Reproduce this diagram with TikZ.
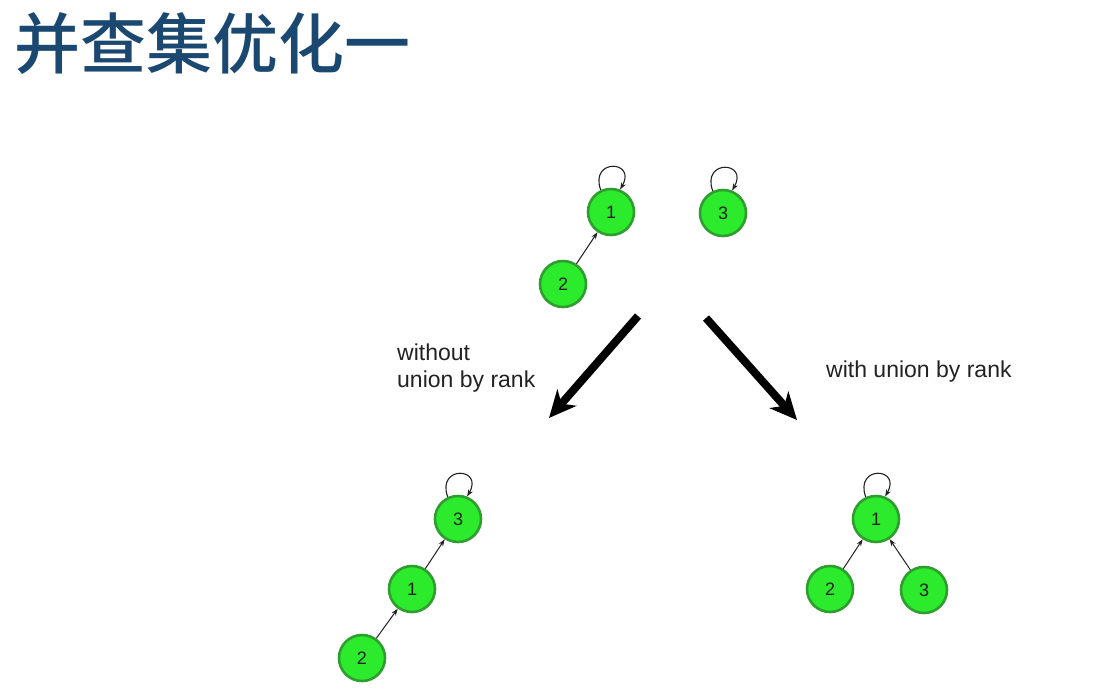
\documentclass[tikz,border=0pt]{standalone}
\usepackage{fontspec}
\setmainfont{Liberation Sans}
\newfontfamily\cjk{Noto Sans CJK SC Medium}
\usetikzlibrary{arrows.meta}
\definecolor{titleblue}{HTML}{1B4870}
\definecolor{nodefill}{HTML}{2CEA2C}
\definecolor{nodeline}{HTML}{2E9E2E}
\definecolor{ink}{HTML}{222222}
\tikzset{
  vert/.style={circle, draw=nodeline, line width=2.6pt, fill=nodefill,
    minimum size=46pt, inner sep=0pt, font=\fontsize{18}{18}\selectfont, text=ink},
  link/.style={-{Stealth[length=7pt,width=5pt]}, line width=1pt, draw=ink},
  selfloop/.style={-{Stealth[length=7pt,width=5pt]}, line width=1.1pt, draw=ink},
  bigarrow/.style={-{Stealth[length=27pt,width=25pt,inset=8pt]}, line width=8pt, draw=black},
  caption/.style={font=\fontsize{23}{27}\selectfont, text=ink, anchor=base west, align=left, inner sep=0pt}
}
\begin{document}
\begin{tikzpicture}[x=1pt, y=-1pt]
\useasboundingbox (0,0) rectangle (1097,694);
\fill[white] (0,0) rectangle (1097,694);

% title
\node[anchor=west, inner sep=0pt, text=titleblue, font=\cjk\fontsize{66}{66}\selectfont] (title) at (14,44) {并查集优化一};

% starting forest
\node[vert] (t1) at (611,212) {1};
\node[vert] (t3) at (723,213) {3};
\node[vert] (t2) at (563,284) {2};
\draw[link] (t2) -- (t1);
\draw[selfloop] (t1.115) .. controls +(-110:34) and +(-60:34) .. (t1.68);
\draw[selfloop] (t3.115) .. controls +(-110:34) and +(-60:34) .. (t3.68);

% big arrows
\coordinate (la0) at (638,316);
\coordinate (la1) at (549,418);
\coordinate (ra0) at (706,318);
\coordinate (ra1) at (797,420);
\draw[bigarrow] (la0) -- (la1);
\draw[bigarrow] (ra0) -- (ra1);

\node[caption] (lcap) at (397,387) {without\\union by rank};
\node[caption] (rcap) at (826,377) {with union by rank};

% result without union by rank
\node[vert] (l3) at (458,519) {3};
\node[vert] (l1) at (412,589) {1};
\node[vert] (l2) at (362,658) {2};
\draw[link] (l1) -- (l3);
\draw[link] (l2) -- (l1);
\draw[selfloop] (l3.115) .. controls +(-110:34) and +(-60:34) .. (l3.68);

% result with union by rank
\node[vert] (r1) at (876,519) {1};
\node[vert] (r2) at (830,589) {2};
\node[vert] (r3) at (924,590) {3};
\draw[link] (r2) -- (r1);
\draw[link] (r3) -- (r1);
\draw[selfloop] (r1.115) .. controls +(-110:34) and +(-60:34) .. (r1.68);
\end{tikzpicture}
\end{document}
